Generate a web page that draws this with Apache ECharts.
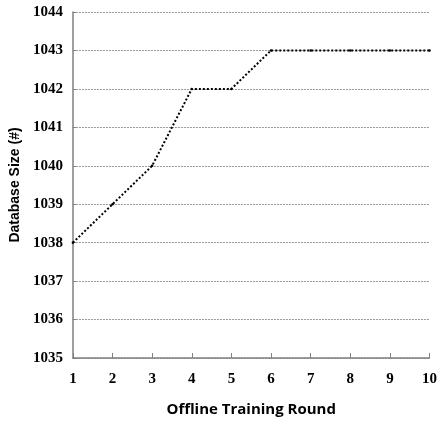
<!DOCTYPE html>
<html><head><meta charset="utf-8">
<script src="https://cdn.jsdelivr.net/npm/echarts@6/dist/echarts.min.js"></script>
<style>html,body{margin:0;padding:0;background:#fff}#c{width:440px;height:422px}</style>
</head><body><div id="c"></div>
<script>
const rounds = [1, 2, 3, 4, 5, 6, 7, 8, 9, 10];
const dbSize = [1038, 1039, 1040, 1042, 1042, 1043, 1043, 1043, 1043, 1043];
const xTitle = 'Offline Training Round';
const yTitle = 'Database Size (#)';

const chart = echarts.init(document.getElementById('c'));
chart.setOption({
  animation: false,
  backgroundColor: '#fff',
  grid: { left: 70, right: 4, top: 12, bottom: 63 },
  xAxis: {
    type: 'value', min: 1, max: 10, interval: 1,
    name: xTitle, nameLocation: 'middle', nameGap: 44,
    nameTextStyle: { fontFamily: 'Open Sans', fontWeight: 'bold', fontSize: 15, color: '#000' },
    axisLine: { lineStyle: { color: '#808080', width: 1.5 } },
    axisTick: { inside: true, length: 5, lineStyle: { color: '#808080' } },
    axisLabel: { fontFamily: 'Liberation Serif', fontWeight: 'bold', fontSize: 15, color: '#000', margin: 14 },
    splitLine: { show: false }
  },
  yAxis: {
    type: 'value', min: 1035, max: 1044, interval: 1,
    name: yTitle, nameLocation: 'middle', nameGap: 48, nameRotate: 90,
    nameTextStyle: { fontFamily: 'Liberation Sans', fontWeight: 'bold', fontSize: 14, color: '#000' },
    axisLine: { show: true, lineStyle: { color: '#808080', width: 1.5 } },
    axisTick: { show: true, inside: true, length: 3, lineStyle: { color: '#808080' } },
    axisLabel: { fontFamily: 'Liberation Serif', fontWeight: 'bold', fontSize: 15, color: '#000', margin: 10, formatter: v => String(v) },
    splitLine: { show: true, lineStyle: { color: '#999', width: 1, type: [2, 1] } }
  },
  series: [{
    type: 'line',
    data: rounds.map((r, i) => [r, dbSize[i]]),
    symbol: 'circle', symbolSize: 2.5,
    itemStyle: { color: '#000' },
    lineStyle: { color: '#000', width: 2, type: [2, 2] }
  }]
});
</script></body></html>
